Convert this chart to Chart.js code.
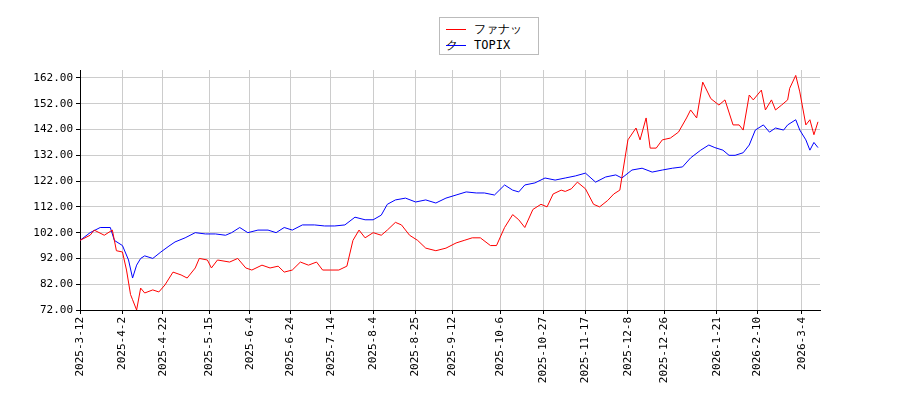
<!DOCTYPE html>
<html><head><meta charset="utf-8">
<script src="https://cdn.jsdelivr.net/npm/chart.js@4"></script>
<style>
body{margin:0;background:#fff}
#wrap{position:relative;width:900px;height:400px}
#legend{position:absolute;left:439px;top:17px;width:100px;height:38px;border:1px solid #bbb;background:#fff;font:12px "DejaVu Sans Mono",monospace;box-sizing:border-box;padding:3px 6px}
#legend div{height:16px;line-height:16px}
#legend span{display:inline-block;width:20px;height:1px;vertical-align:middle;margin-right:8px}
</style></head><body>
<div id="wrap"><canvas id="c" width="900" height="400"></canvas>
<div id="legend"><div><span style="background:red"></span>ファナック</div><div><span style="background:blue"></span>TOPIX</div></div></div>
<script>
const tickDays = [0,21,41,64,84,104,124,145,166,184,208,229,250,271,289,315,335,357];
const tickLabels = ['2025-3-12','2025-4-2','2025-4-22','2025-5-15','2025-6-4','2025-6-24','2025-7-14','2025-8-4','2025-8-25','2025-9-12','2025-10-6','2025-10-27','2025-11-17','2025-12-8','2025-12-26','2026-1-21','2026-2-10','2026-3-4'];

const fanucDays = [0,5,7,12,16,18,21,23,25,26,28,30,32,36,39,42,46,50,53,57,59,63,65,68,74,78,82,85,90,94,98,101,105,109,113,117,120,124,128,132,135,138,141,145,149,152,156,159,163,167,171,176,181,186,190,194,198,203,206,210,214,217,220,224,228,231,234,238,240,243,246,250,254,257,261,264,267,271,275,277,280,282,285,288,292,296,300,302,305,308,312,316,319,323,326,328,331,333,337,339,342,344,347,350,351,354,356,359,361,363,365];
const fanucValues = [99,101,103,101,103,95,94.5,87.5,78,76,72,80.5,78.6,79.8,79,81.7,86.7,85.6,84.4,88.3,92,91.4,88.3,91.4,90.6,92,88.3,87.5,89.4,88.3,89,86.7,87.5,90.6,89.4,90.6,87.5,87.5,87.5,89,99,103,100,102,101,103,106,105,101,99,96,95,96,98,99,100,100,97,97,104,109,107,104,111,113,112,117,118.5,118,119,121.6,119,113,112,114.5,117,118.5,138,142.6,138,146.5,134.8,134.8,138,138.7,141,146.5,149.6,146.5,160.4,154,151.5,153.5,143.8,143.8,141.8,155.4,153.5,157.3,149.6,153.5,149.6,151.5,153.5,158,163,156.6,143.8,145.8,140,145];

const topixDays = [0,5,10,15,17,21,24,26,28,30,32,36,40,44,47,52,57,62,67,72,75,79,83,88,93,97,101,105,110,116,121,126,131,136,141,145,149,152,156,161,166,171,176,181,186,191,196,200,205,210,214,217,220,225,230,235,240,245,250,255,260,265,268,273,278,283,288,293,298,302,307,311,314,318,321,324,328,331,334,338,341,344,348,350,354,356,359,361,363,365];
const topixValues = [99,102,104,104,99,97,91.4,84.4,89.4,92,93,92,94.5,96.8,98.4,100,102,101.5,101.5,101,102,104,102,103,103,102,104,103,105,105,104.6,104.6,105,108,107,107,108.8,113,114.7,115.4,113.9,114.7,113.5,115.4,116.6,117.8,117.4,117.4,116.6,120.5,118.5,117.8,120.5,121.3,123.2,122.4,123.2,124,125.1,121.6,123.6,124.4,123.2,126.3,127,125.5,126.3,127,127.5,131,134,136,135,134,132,132,133,136,141.8,143.8,141,142.6,141.8,143.8,145.8,141.8,138,134,137,135];

const yTicks = [72,82,92,102,112,122,132,142,152,162];
const font = {family:'DejaVu Sans Mono', size:11};
const pts = (d, v) => d.map((x, i) => ({x: x, y: v[i]}));

new Chart(document.getElementById('c'), {
  type: 'line',
  data: {
    datasets: [
      {data: pts(fanucDays, fanucValues), borderColor: 'red', borderWidth: 1, pointRadius: 0, tension: 0},
      {data: pts(topixDays, topixValues), borderColor: 'blue', borderWidth: 1, pointRadius: 0, tension: 0}
    ]
  },
  options: {
    responsive: false, animation: false,
    layout: {padding: {top: 70, right: 80, left: 0, bottom: 0}},
    plugins: {legend: {display: false}, tooltip: {enabled: false}},
    scales: {
      x: {
        type: 'linear', min: 0, max: 366,
        afterBuildTicks: (s) => { s.ticks = tickDays.map(v => ({value: v})); },
        afterFit: (s) => { s.height = 90; },
        grid: {color: '#ccc', tickColor: '#000', tickLength: 4},
        border: {color: '#000'},
        ticks: {color: '#000', font: font, maxRotation: 90, minRotation: 90, autoSkip: false,
          callback: (v) => tickLabels[tickDays.indexOf(v)]}
      },
      y: {
        min: 72, max: 165.1,
        afterBuildTicks: (s) => { s.ticks = yTicks.map(v => ({value: v})); },
        afterFit: (s) => { s.width = 80; },
        grid: {color: '#ccc', tickColor: '#000', tickLength: 4},
        border: {color: '#000'},
        ticks: {color: '#000', font: font, callback: (v) => v.toFixed(2)}
      }
    }
  }
});
</script></body></html>
